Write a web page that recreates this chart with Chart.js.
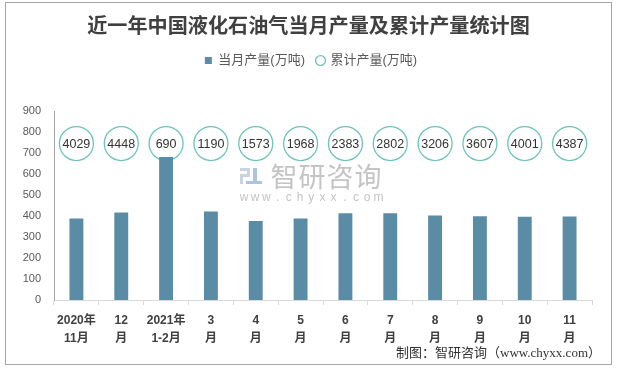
<!DOCTYPE html>
<html>
<head>
<meta charset="utf-8">
<script src="https://cdn.jsdelivr.net/npm/chart.js@4/dist/chart.umd.min.js"></script>
<style>
  html, body { margin: 0; padding: 0; background: #fff; }
  #wrap { position: relative; width: 618px; height: 368px; }
</style>
</head>
<body>
<div id="wrap"><canvas id="lpgChart" width="618" height="368"></canvas></div>
<script>
const months = [
  ['2020年', '11月'], ['12', '月'], ['2021年', '1-2月'], ['3', '月'], ['4', '月'], ['5', '月'],
  ['6', '月'], ['7', '月'], ['8', '月'], ['9', '月'], ['10', '月'], ['11', '月']
];
const monthly = [388, 417, 681, 421, 376, 388, 413, 413, 402, 399, 396, 398];
const cumulative = [4029, 4448, 690, 1190, 1573, 1968, 2383, 2802, 3206, 3607, 4001, 4387];
const yTicks = [0, 100, 200, 300, 400, 500, 600, 700, 800, 900];

const TITLE = '近一年中国液化石油气当月产量及累计产量统计图';
const SOURCE = '制图：智研咨询（www.chyxx.com）';

// height (in axis units) of the row of circled totals
const CIRCLE_ROW = 745;
const SANS = '"Liberation Sans", "Noto Sans CJK SC", sans-serif';

const canvas = document.getElementById('lpgChart');
const ctx = canvas.getContext('2d');

const decor = {
  id: 'decor',
  beforeInit(chart) {
    const fit = chart.legend.fit;
    chart.legend.fit = function () {
      fit.call(this);
      this.height = 69;
    };
  },
  afterLayout(chart) {
    // centre the legend on the whole canvas, not just the padded box
    chart.legend.right += 30;
    chart.legend.width += 30;
  },
  beforeDraw(chart) {
    const c = chart.ctx;
    c.save();
    c.strokeStyle = '#a6a6a6';
    c.lineWidth = 1;
    c.strokeRect(5.5, 2.5, 606, 362);
    // title, fitted to the reference width
    c.font = 'bold 22px "Noto Sans CJK SC", sans-serif';
    const w = c.measureText(TITLE).width;
    const size = 22 * 443 / w;
    c.font = 'bold ' + size.toFixed(2) + 'px "Noto Sans CJK SC", sans-serif';
    c.fillStyle = '#404040';
    c.textAlign = 'center';
    c.textBaseline = 'middle';
    c.fillText(TITLE, 308.5, 25);
    c.restore();
  },
  beforeDatasetsDraw(chart) {
    // watermark
    const c = chart.ctx;
    c.save();
    c.fillStyle = '#c9d3e3';
    c.fillRect(240, 168, 10, 3);
    c.fillRect(247, 168, 3, 9);
    c.fillRect(240, 174, 10, 3);
    c.fillRect(240, 174, 3, 10);
    c.fillStyle = '#aec3df';
    c.fillRect(253, 168, 4, 13);
    c.fillRect(246, 181, 16, 3);
    c.fillStyle = '#c4c4c4';
    c.font = '27px "Noto Sans CJK SC", sans-serif';
    c.textBaseline = 'middle';
    c.textAlign = 'center';
    ['智', '研', '咨', '询'].forEach((ch, i) => c.fillText(ch, 284 + i * 28, 177));
    c.font = '12px ' + SANS;
    'www.chyxx.com'.split('').forEach((ch, i) => c.fillText(ch, 244 + i * 11.2, 198));
    c.restore();
  },
  afterDatasetsDraw(chart) {
    const c = chart.ctx;
    const meta = chart.getDatasetMeta(1);
    c.save();
    c.font = '12.5px ' + SANS;
    c.fillStyle = '#333333';
    c.textAlign = 'center';
    c.textBaseline = 'middle';
    meta.data.forEach((pt, i) => c.fillText(String(cumulative[i]), pt.x, pt.y + 1));
    c.font = '13px "Liberation Serif", "Noto Sans CJK SC", serif';
    c.textAlign = 'right';
    c.fillText(SOURCE, 601, 354);
    c.restore();
  }
};

new Chart(ctx, {
  data: {
    labels: months,
    datasets: [{
      type: 'bar',
      label: '当月产量(万吨)',
      data: monthly,
      backgroundColor: '#5a8ca5',
      borderWidth: 0,
      pointStyle: 'rect',
      barPercentage: 0.31,
      categoryPercentage: 1,
      order: 0
    }, {
      type: 'line',
      label: '累计产量(万吨)',
      data: cumulative.map(() => CIRCLE_ROW),
      showLine: false,
      pointStyle: 'circle',
      pointRadius: 17,
      pointHoverRadius: 17,
      pointBorderWidth: 1.3,
      pointBorderColor: '#6cc4ba',
      pointBackgroundColor: 'rgba(255,255,255,0)',
      order: 1
    }]
  },
  options: {
    responsive: false,
    animation: false,
    events: [],
    layout: {
      padding: { left: 0, right: 26, top: 42, bottom: 13 }
    },
    plugins: {
      title: { display: false },
      legend: {
        display: true,
        labels: {
          usePointStyle: true,
          boxHeight: 7,
          boxWidth: 7,
          padding: 12,
          color: '#595959',
          font: { family: SANS, size: 13 }
        }
      },
      tooltip: { enabled: false }
    },
    scales: {
      x: {
        offset: true,
        grid: {
          display: true,
          drawOnChartArea: false,
          drawTicks: true,
          tickLength: 5,
          color: '#d9d9d9'
        },
        border: { color: '#d9d9d9' },
        ticks: {
          padding: 7,
          color: '#404040',
          maxRotation: 0,
          autoSkip: false,
          font: { family: SANS, size: 12, weight: 'bold', lineHeight: 1.5 }
        }
      },
      y: {
        min: 0,
        max: 900,
        afterFit(scale) { scale.width = 54; },
        afterBuildTicks(scale) { scale.ticks = yTicks.map(v => ({ value: v })); },
        grid: { display: false, drawTicks: false },
        border: { display: true, color: '#a6a6a6' },
        ticks: {
          padding: 13,
          color: '#595959',
          font: { family: SANS, size: 11 }
        }
      }
    }
  },
  plugins: [decor]
});
</script>
</body>
</html>
